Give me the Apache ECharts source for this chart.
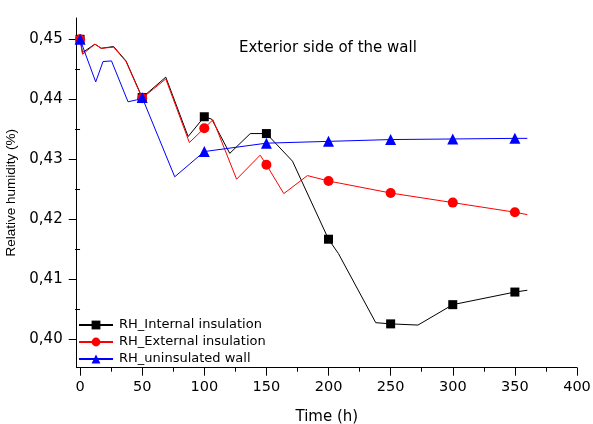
<!DOCTYPE html>
<html>
<head>
<meta charset="utf-8">
<script src="https://cdn.jsdelivr.net/npm/echarts@6/dist/echarts.min.js"></script>
<style>
html,body{margin:0;padding:0;background:#fff;}
#chart{width:593px;height:424px;}
</style>
</head>
<body>
<div id="chart"></div>
<script>
// ---- data ----
const seriesNames = ['RH_Internal insulation', 'RH_External insulation', 'RH_uninsulated wall'];
const chartTitle = 'Exterior side of the wall';
const xAxisName = 'Time (h)';
const yAxisName = 'Relative humidity (%)';

const markerTimes = [0, 50, 100, 150, 200, 250, 300, 350];

const timeInternal = [0, 2, 12, 17, 27, 37, 50, 69, 87, 100, 106, 120.5, 137, 150, 171, 200, 208, 238, 250, 272, 300, 350, 360];
const rhInternal   = [0.4500, 0.4478, 0.4492, 0.4485, 0.4488, 0.4464, 0.4403, 0.4437, 0.4338, 0.4371, 0.4367, 0.4310, 0.4343, 0.4343, 0.4297, 0.4167, 0.4143, 0.4028, 0.4026, 0.4024, 0.4058, 0.4079, 0.4082];

const timeExternal = [0, 2, 12, 17, 27, 37, 50, 69, 88, 100, 107, 126, 145, 150, 164, 183, 200, 250, 300, 350, 360];
const rhExternal   = [0.4500, 0.4475, 0.4492, 0.4485, 0.4487, 0.4463, 0.4402, 0.4434, 0.4328, 0.4352, 0.4366, 0.4267, 0.4307, 0.4291, 0.4243, 0.4273, 0.4264, 0.4244, 0.4228, 0.4212, 0.4208];

const timeUninsulated = [0, 12.6, 18.5, 25.3, 38.6, 45.4, 50, 76.2, 100, 150, 200, 250, 300, 350, 360];
const rhUninsulated   = [0.4500, 0.4429, 0.4463, 0.4464, 0.4396, 0.4399, 0.4403, 0.4271, 0.4313, 0.4327, 0.4330, 0.4333, 0.4334, 0.4335, 0.4335];

const xMajorTicks = [0, 50, 100, 150, 200, 250, 300, 350, 400];
const xMinorTicks = [25, 75, 125, 175, 225, 275, 325, 375];
const yMajorTicks = [0.40, 0.41, 0.42, 0.43, 0.44, 0.45];
const yMinorTicks = [0.405, 0.415, 0.425, 0.435, 0.445];

// ---- chart ----
const FONT = 'DejaVu Sans';
function buildData(times, values) {
  return times.map(function (t, i) {
    const item = { value: [t, values[i]] };
    if (markerTimes.indexOf(t) < 0) item.symbol = 'none';
    return item;
  });
}
const colors = ['#000000', '#ff0000', '#0000ff'];
const symbols = ['rect', 'circle', 'triangle'];
const symbolSizes = [9, 10, 11];
const allTimes = [timeInternal, timeExternal, timeUninsulated];
const allValues = [rhInternal, rhExternal, rhUninsulated];

const chart = echarts.init(document.getElementById('chart'), null, { renderer: 'canvas' });
const axisColor = '#000';
const option = {
  animation: false,
  backgroundColor: '#fff',
  title: {
    text: chartTitle,
    left: 239,
    top: 41,
    padding: 0,
    textStyle: { fontFamily: FONT, fontSize: 15, fontWeight: 'normal', color: '#000' }
  },
  legend: {
    orient: 'vertical',
    left: 78,
    top: 318,
    padding: 0,
    itemWidth: 34,
    itemHeight: 11,
    itemGap: 3,
    data: seriesNames,
    textStyle: { fontFamily: FONT, fontSize: 13, color: '#000', lineHeight: 14, padding: [0, 0, 0, 1] }
  },
  grid: { left: 76.7, right: 16, top: 18, bottom: 56.3, containLabel: false, outerBoundsMode: 'none' },
  xAxis: [
    {
      type: 'value', min: -2.7, max: 400, position: 'bottom',
      name: xAxisName, nameLocation: 'middle', nameGap: 42,
      nameTextStyle: { fontFamily: FONT, fontSize: 15, color: '#000' },
      axisLine: { show: true, onZero: false, lineStyle: { color: axisColor, width: 1 } },
      axisTick: { show: true, customValues: xMajorTicks, length: 8, lineStyle: { color: axisColor, width: 1 } },
      axisLabel: { customValues: xMajorTicks, fontFamily: FONT, fontSize: 14.5, color: '#000', margin: 12 },
      splitLine: { show: false }
    },
    {
      type: 'value', min: -2.7, max: 400, position: 'bottom',
      axisLine: { show: false },
      axisTick: { show: true, customValues: xMinorTicks, length: 4, lineStyle: { color: axisColor, width: 1 } },
      axisLabel: { show: false },
      splitLine: { show: false }
    }
  ],
  yAxis: [
    {
      type: 'value', min: 0.3953, max: 0.45355, position: 'left',
      name: yAxisName, nameLocation: 'middle', nameGap: 55,
      nameTextStyle: { fontFamily: 'Liberation Sans', fontSize: 13.5, color: '#000' },
      axisLine: { show: true, onZero: false, lineStyle: { color: axisColor, width: 1 } },
      axisTick: { show: true, customValues: yMajorTicks, length: 8, lineStyle: { color: axisColor, width: 1 } },
      axisLabel: {
        customValues: yMajorTicks, fontFamily: FONT, fontSize: 15, color: '#000', margin: 14,
        formatter: function (v) { return v.toFixed(2).replace('.', ','); }
      },
      splitLine: { show: false }
    },
    {
      type: 'value', min: 0.3953, max: 0.45355, position: 'left',
      axisLine: { show: false },
      axisTick: { show: true, customValues: yMinorTicks, length: 5, lineStyle: { color: axisColor, width: 1 } },
      axisLabel: { show: false },
      splitLine: { show: false }
    }
  ],
  series: seriesNames.map(function (name, i) {
    return {
      name: name,
      type: 'line',
      xAxisIndex: 0,
      yAxisIndex: 0,
      data: buildData(allTimes[i], allValues[i]),
      symbol: symbols[i],
      symbolSize: symbolSizes[i],
      showSymbol: true,
      showAllSymbol: true,
      color: colors[i],
      itemStyle: { color: colors[i], borderWidth: 0 },
      lineStyle: { color: colors[i], width: 1 },
      z: 2 + i
    };
  })
};
chart.setOption(option);
</script>
</body>
</html>
